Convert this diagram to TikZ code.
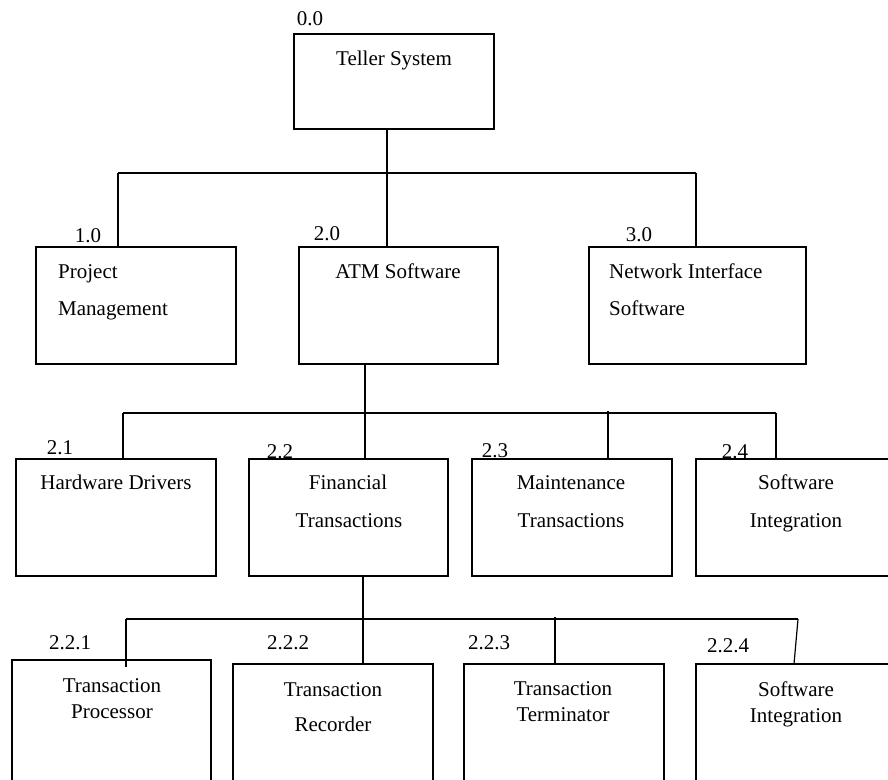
\documentclass[tikz,border=0pt]{standalone}
\usepackage{fontspec}
\setmainfont{Liberation Serif}
\begin{document}
\begin{tikzpicture}[x=1pt,y=-1pt,
  every node/.style={font=\fontsize{21}{25}\selectfont},
  box/.style={draw, line width=1.5pt, rectangle, inner sep=0pt, outer sep=0pt},
  txt/.style={anchor=base, inner sep=0pt},
  ltxt/.style={anchor=base west, inner sep=0pt},
  num/.style={anchor=base, inner sep=0pt},
  bus/.style={line width=1.7pt},
  vline/.style={line width=1.2pt}]
\useasboundingbox (0,0) rectangle (888,779);
\clip (0,0) rectangle (888,779);

% ---- boxes ----
\node[box, minimum width=200pt, minimum height=95pt]  (teller) at (394,81.5) {};
\node[box, minimum width=200pt, minimum height=117pt] (pm)  at (136,305.5) {};
\node[box, minimum width=199pt, minimum height=117pt] (atm) at (398.5,305.5) {};
\node[box, minimum width=217pt, minimum height=117pt] (nis) at (697.5,305.5) {};
\node[box, minimum width=200pt, minimum height=117pt] (hw)  at (116,517.5) {};
\node[box, minimum width=199pt, minimum height=117pt] (fin) at (348.5,517.5) {};
\node[box, minimum width=200pt, minimum height=117pt] (mnt) at (572,517.5) {};
\node[box, minimum width=224pt, minimum height=117pt] (swi) at (808,517.5) {};
\node[box, minimum width=199pt, minimum height=140pt] (tp)  at (111.5,730) {};
\node[box, minimum width=200pt, minimum height=136pt] (tr)  at (333,732) {};
\node[box, minimum width=200pt, minimum height=136pt] (tt)  at (564,732) {};
\node[box, minimum width=224pt, minimum height=136pt] (sw2) at (808,732) {};

% ---- numbers ----
\node[num] (n00)  at (310,25)  {0.0};
\node[num] (n10)  at (88,242)  {1.0};
\node[num] (n20)  at (327,240) {2.0};
\node[num] (n30)  at (639,241) {3.0};
\node[num] (n21)  at (60,454)  {2.1};
\node[num] (n22)  at (280,458) {2.2};
\node[num] (n23)  at (495,457) {2.3};
\node[num] (n24)  at (735,458) {2.4};
\node[num] (n221) at (70,649)  {2.2.1};
\node[num] (n222) at (288,649) {2.2.2};
\node[num] (n223) at (489,649) {2.2.3};
\node[num] (n224) at (728,652) {2.2.4};

% ---- box texts ----
\node[txt]  (tellerA) at (394,65)  {Teller System};
\node[ltxt] (pmA)     at (58,278)  {Project};
\node[ltxt] (pmB)     at (58,315)  {Management};
\node[txt]  (atmA)    at (398,278) {ATM Software};
\node[ltxt] (nisA)    at (609,278) {Network Interface};
\node[ltxt] (nisB)    at (609,315) {Software};
\node[txt]  (hwA)     at (116,489) {Hardware Drivers};
\node[txt]  (finA)    at (348,489) {Financial};
\node[txt]  (finB)    at (349,527) {Transactions};
\node[txt]  (mntA)    at (571,489) {Maintenance};
\node[txt]  (mntB)    at (571,527) {Transactions};
\node[txt]  (swiA)    at (796,489) {Software};
\node[txt]  (swiB)    at (796,527) {Integration};
\node[txt]  (tpA)     at (112,692) {Transaction};
\node[txt]  (tpB)     at (112,718) {Processor};
\node[txt]  (trA)     at (333,696) {Transaction};
\node[txt]  (trB)     at (333,731) {Recorder};
\node[txt]  (ttA)     at (563,695) {Transaction};
\node[txt]  (ttB)     at (563,721) {Terminator};
\node[txt]  (sw2A)    at (796,696) {Software};
\node[txt]  (sw2B)    at (796,722) {Integration};

% ---- level 1 connectors ----
\coordinate (b1m) at (387,173);
\coordinate (b1L) at (118,173);
\coordinate (b1R) at (696,173);
\draw[vline] (teller.south -| b1m) -- (atm.north -| b1m);
\draw[bus] (b1L) -- (b1R);
\draw[vline] (b1L) -- (pm.north -| b1L);
\draw[vline] (b1R) -- (nis.north -| b1R);

% ---- level 2 connectors ----
\coordinate (b2m) at (365,413);
\coordinate (b2L) at (123,413);
\coordinate (b2c) at (608,411);
\coordinate (b2R) at (776,413);
\draw[vline] (atm.south -| b2m) -- (fin.north -| b2m);
\draw[bus] (b2L) -- (b2R);
\draw[vline] (b2L) -- (hw.north -| b2L);
\draw[vline] (b2c) -- (mnt.north -| b2c);
\draw[vline] (b2R) -- (swi.north -| b2R);

% ---- level 3 connectors ----
\coordinate (b3m) at (363,619);
\coordinate (b3L) at (126,619);
\coordinate (b3c) at (555,617);
\coordinate (b3R) at (798,619);
\coordinate (tpin) at (126,667);
\coordinate (sw2in) at (794,664);
\draw[vline] (fin.south -| b3m) -- (tr.north -| b3m);
\draw[bus] (b3L) -- (b3R);
\draw[vline] (b3L) -- (tpin);
\draw[vline] (b3c) -- (tt.north -| b3c);
\draw[vline] (b3R) -- (sw2in);
\end{tikzpicture}
\end{document}
